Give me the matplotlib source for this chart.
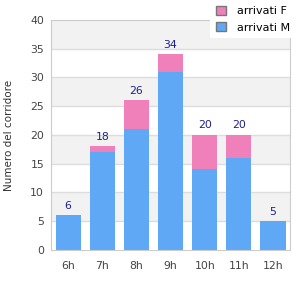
import numpy as np
import matplotlib.pyplot as plt
from matplotlib.patches import Patch

ore = ["6h", "7h", "8h", "9h", "10h", "11h", "12h"]
arrivati_m = [6, 17, 21, 31, 14, 16, 5]
arrivati_f = [0, 1, 5, 3, 6, 4, 0]

col_m = "#5fa8f5"
col_f = "#f080ba"

fig = plt.figure(figsize=(3, 3), dpi=100)
ax = fig.add_axes([0.17, 0.1667, 0.797, 0.7667])

x = np.arange(len(ore))
totali = np.array(arrivati_m) + np.array(arrivati_f)

# alternating bands
for i in range(8):
    if i % 2 == 1:
        ax.axhspan(i * 5, (i + 1) * 5, color="#f2f2f2", zorder=0, lw=0)
for v in range(5, 40, 5):
    ax.axhline(v, color="#dddddd", lw=1, zorder=0.5)

ax.bar(x, arrivati_m, width=0.735, color=col_m, zorder=2)
ax.bar(x, arrivati_f, width=0.735, bottom=arrivati_m, color=col_f, zorder=2)

for xi, t in zip(x, totali):
    ax.text(xi, t + 0.8, str(t), ha="center", va="bottom", fontsize=7.8,
            color="#1f1f8f", zorder=3)

ax.set_xlim(-0.5, len(ore) - 0.5)
ax.set_ylim(0, 40)
ax.set_yticks(range(0, 41, 5))
ax.set_xticks(x)
ax.set_xticklabels(ore)
ax.tick_params(length=0, labelsize=7.8, labelcolor="#444444", pad=5)
ax.tick_params(axis="x", pad=8)
for s in ax.spines.values():
    s.set_color("#cccccc")
ax.set_ylabel("Numero del corridore", fontsize=7.5, color="#333333", labelpad=12)

handles = [Patch(facecolor=col_f, edgecolor="#777777", label="arrivati F"),
           Patch(facecolor=col_m, edgecolor="#777777", label="arrivati M")]
leg = fig.legend(handles=handles, loc="upper left", bbox_to_anchor=(0.70, 1.0),
                 fontsize=8, frameon=True, fancybox=False, handlelength=0.9,
                 handleheight=0.9, handletextpad=1.0, labelspacing=0.55,
                 borderpad=0.5, borderaxespad=0, framealpha=1)
leg.get_frame().set_edgecolor("white")
leg.get_frame().set_linewidth(0)
leg.set_zorder(10)

fig.savefig("out.png", dpi=100)
